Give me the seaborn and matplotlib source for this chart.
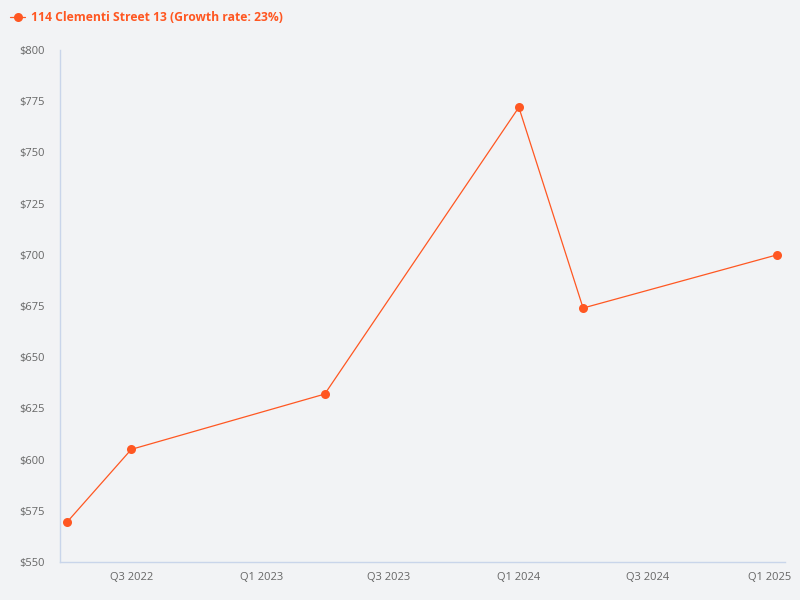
import matplotlib
matplotlib.use("Agg")
import matplotlib.pyplot as plt
import matplotlib.transforms as mtransforms
import seaborn as sns
import pandas as pd

# data
dates = ["2022-04-01", "2022-07-01", "2023-04-01", "2024-01-01", "2024-04-01", "2025-01-01"]
prices = [569.5, 605, 632, 772, 674, 700]
series_name = "114 Clementi Street 13 (Growth rate: 23%)"
tick_dates = ["2022-07-01", "2023-01-01", "2023-07-01", "2024-01-01", "2024-07-01", "2025-01-01"]
tick_labels = ["Q3 2022", "Q1 2023", "Q3 2023", "Q1 2024", "Q3 2024", "Q1 2025"]
y_ticks = [550, 575, 600, 625, 650, 675, 700, 725, 750, 775, 800]

df = pd.DataFrame({"date": pd.to_datetime(dates), "price": prices})

bg = "#f2f3f5"
color = "#ff5722"
sns.set_style("white")
plt.rcParams["font.family"] = ["Open Sans", "DejaVu Sans"]

fig = plt.figure(figsize=(8, 6), dpi=100, facecolor=bg)
ax = fig.add_axes([0.075, 0.0633, 0.90625, 0.8534])
ax.set_facecolor(bg)

sns.lineplot(data=df, x="date", y="price", ax=ax, color=color, linewidth=0.9,
             marker="o", markersize=6.5, markeredgewidth=0, label=series_name)

ax.set_ylim(550, 800)
ax.set_yticks(y_ticks)
ax.set_yticklabels([f"${v}" for v in y_ticks])
ax.set_xlim(pd.Timestamp("2022-03-22"), pd.Timestamp("2025-01-12"))
ax.set_xticks(pd.to_datetime(tick_dates))
ax.set_xticklabels(tick_labels)
ax.set_xlabel("")
ax.set_ylabel("")

ax.tick_params(axis="both", length=0, labelsize=8, labelcolor="#666666")
ax.tick_params(axis="x", pad=7)
ax.tick_params(axis="y", pad=11)

# last label is nudged left so it stays inside the figure
last = ax.get_xticklabels()[-1]
last.set_transform(last.get_transform() + mtransforms.ScaledTranslation(-8 / 100, 0, fig.dpi_scale_trans))

for side in ["top", "right"]:
    ax.spines[side].set_visible(False)
for side in ["left", "bottom"]:
    ax.spines[side].set_color("#c9d5ea")
    ax.spines[side].set_linewidth(1)

leg = ax.legend(loc="upper left", bbox_to_anchor=(-0.076, 1.085), frameon=False,
                handlelength=1.3, handletextpad=0.45, borderaxespad=0,
                prop={"weight": "bold", "size": 8.7})
for t in leg.get_texts():
    t.set_color(color)

fig.savefig("out.png", dpi=100, facecolor=bg)
